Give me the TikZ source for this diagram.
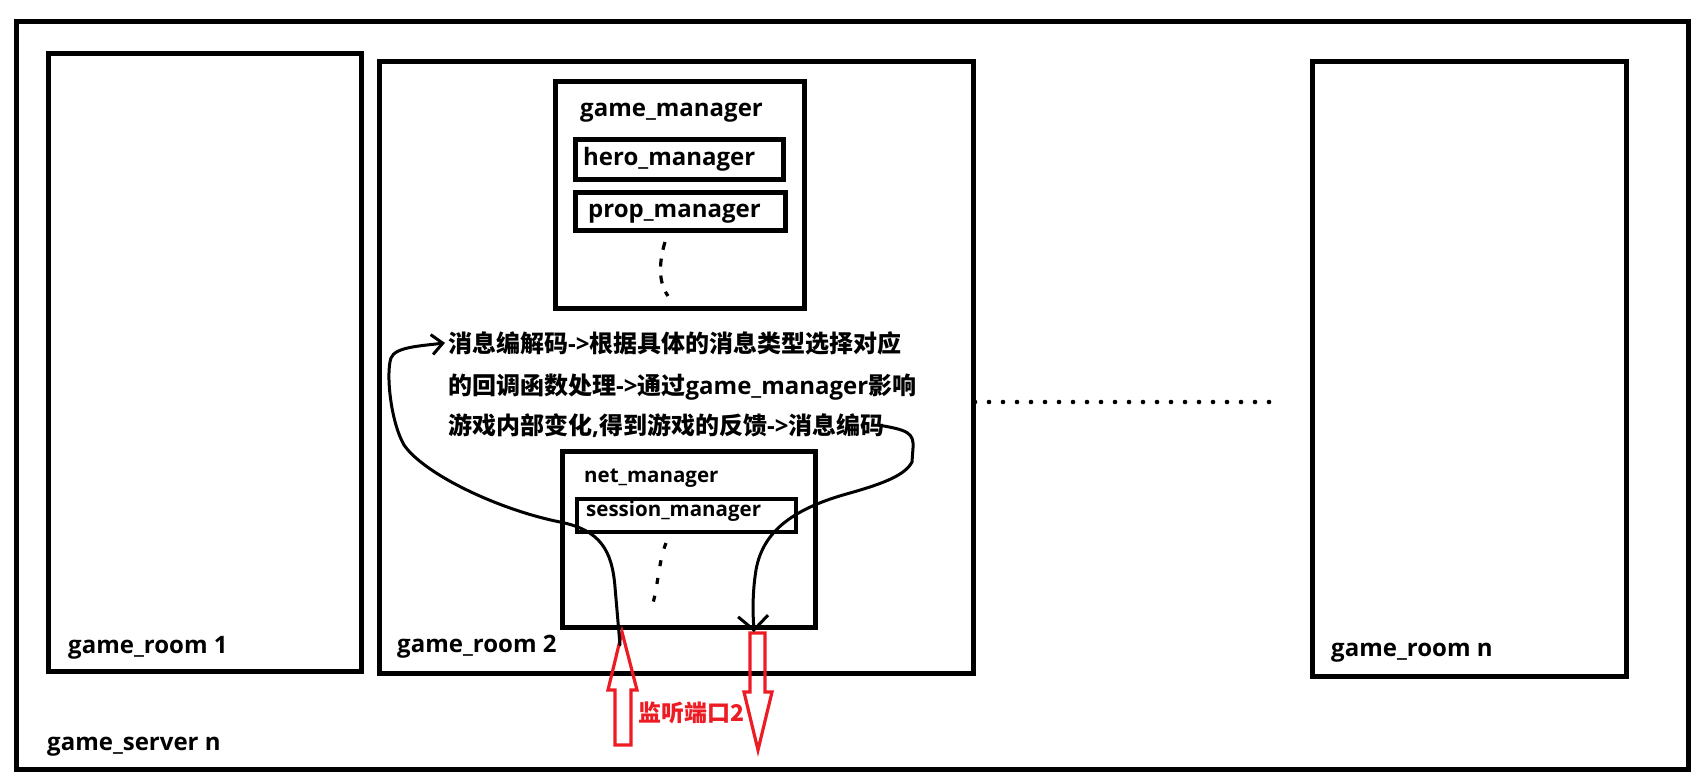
\documentclass[tikz,border=0pt]{standalone}
\usepackage{fontspec}
\setmainfont{Open Sans}
\newfontfamily\zhfont{Noto Sans CJK SC}
\usetikzlibrary{arrows.meta, positioning}
\definecolor{paintred}{RGB}{237,28,36}
\newcommand{\zh}[1]{{\zhfont #1}}

\begin{document}
\begin{tikzpicture}[x=1pt, y=-1pt,
		box/.style={draw, line width=4.6pt, inner sep=0pt, anchor=north west},
		lblbig/.style={anchor=base west, inner sep=0pt, font=\bfseries\fontsize{24}{28}\selectfont},
		lblsmall/.style={anchor=base west, inner sep=0pt, font=\bfseries\fontsize{20.5}{24}\selectfont},
		flow/.style={line width=3pt, line cap=round, line join=round},
		port/.style={draw=paintred, line width=3.2pt},
		gap/.style={line width=3.2pt}]
		\useasboundingbox (0,0) rectangle (1708,779);
		\node[box, minimum width=1672pt, minimum height=748pt] (server) at (14,19) {};
		\node[box, minimum width=313pt, minimum height=618pt] (room1) at (46,51) {};
		\node[box, minimum width=594pt, minimum height=612pt] (room2) at (377,59) {};
		\node[box, minimum width=314pt, minimum height=615pt] (roomn) at (1310,59) {};
		\node[box, minimum width=249pt, minimum height=227pt] (gm) at (553,79) {};
		\node[box, minimum width=208pt, minimum height=40pt] (hero) at (573,137) {};
		\node[box, minimum width=210pt, minimum height=38pt] (prop) at (573,190) {};
		\node[box, minimum width=253pt, minimum height=176pt] (net) at (560,449) {};
		\node[box, line width=4pt, minimum width=219pt, minimum height=33pt] (sess) at (575,497) {};

		\node[lblbig] (gmlbl) at (580,116) {game\_manager};
		\node[lblbig] (herolbl) at (583,165) {hero\_manager};
		\node[lblbig] (proplbl) at (588,217) {prop\_manager};
		\node[lblsmall] (netlbl) at (584,482) {net\_manager};
		\node[lblsmall] (sesslbl) at (586,516) {session\_manager};
		\node[lblbig] (room1lbl) at (68,653) {game\_room 1};
		\node[lblbig] (room2lbl) at (397,652) {game\_room 2};
		\node[lblbig] (roomnlbl) at (1331,656) {game\_room n};
		\node[lblbig] (serverlbl) at (47,750) {game\_server n};

		\node[lblbig] (l1) at (448,352) {\zh{消息编解码}->\zh{根据具体的消息类型选择对应}};
		\node[lblbig] (l2) at (448,394) {\zh{的回调函数处理}->\zh{通过}game\_manager\zh{影响}};
		\node[lblbig] (l3) at (448,434) {\zh{游戏内部变化},\zh{得到游戏的反馈}->\zh{消息编码}};
		\node[anchor=base west, inner sep=0pt, text=paintred, font=\zhfont\bfseries\fontsize{23}{27}\selectfont] (portlbl) at (638,721) {监听端口2};

		\draw[gap, dash pattern=on 8pt off 9pt] (665,242) .. controls (659,262) and (658,282) .. (668,296);
		\draw[gap, dash pattern=on 6pt off 12pt] (666,543) .. controls (659,560) and (658,585) .. (653,603);
		\foreach \i in {0,...,21}
			\fill (975+14*\i,402) circle (2.3pt);

		\coordinate (uptip) at (622,632);
		\coordinate (dntip) at (758,750);
		\coordinate (upin) at (620,645);
		\coordinate (dntop) at (754,632);
		\draw[port] (uptip) -- (637,690) -- (631,690) -- (631,745) -- (615,745) -- (615,690) -- (608,690) -- cycle;
		\draw[port] (dntip) -- (772,692) -- (765,692) -- (765,633) -- (750,633) -- (750,692) -- (744,692) -- cycle;

		\draw[flow, -{Straight Barb[length=11pt, width=20pt]}] (upin) -- (615,587) .. controls (612,550) and (600,530) .. (560,522) .. controls (500,510) and (425,475) .. (404,445) .. controls (390,420) and (386,372) .. (391,358) .. controls (395,347) and (420,346) .. ([xshift=-3pt]l1.west);
		\draw[flow, -{Straight Barb[length=14pt, width=30pt]}] ([xshift=-6pt]l3.east) .. controls (908,430) and (914,433) .. (913,448) -- (912,462) .. controls (905,475) and (885,483) .. (850,493) .. controls (795,508) and (763,530) .. (756,570) .. controls (752,595) and (753,615) .. (dntop);
	\end{tikzpicture}
\end{document}
